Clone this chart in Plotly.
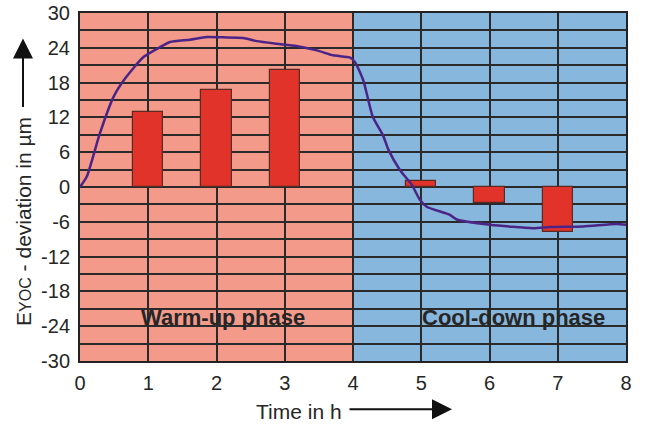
import plotly.graph_objects as go

# Data
bar_hours = [1, 2, 3, 5, 6, 7]
bar_values = [13.0, 16.7, 20.1, 1.0, -2.8, -7.8]

curve_t = [0, 0.1, 0.29, 0.49, 0.66, 0.93, 1.17, 1.32, 1.61, 1.86, 2.1, 2.39, 2.59, 2.88,
           3.17, 3.47, 3.71, 3.96, 4.03, 4.15, 4.29, 4.44, 4.52, 4.69, 4.86, 4.98, 5.08,
           5.42, 5.52, 6.01, 6.64, 6.89, 7.37, 7.86, 8.0]
curve_v = [0, 1.8, 9.2, 15.5, 18.7, 22.4, 24.1, 25.0, 25.4, 25.85, 25.8, 25.7, 25.15, 24.7,
           24.3, 23.55, 22.7, 22.3, 21.5, 18.4, 12.1, 8.9, 6.4, 2.9, 0.4, -2.2, -3.4,
           -4.8, -5.6, -6.5, -7.1, -6.9, -6.8, -6.4, -6.5]

x_ticks = [0, 1, 2, 3, 4, 5, 6, 7, 8]
y_ticks = [-30, -24, -18, -12, -6, 0, 6, 12, 18, 24, 30]
y_tick_labels = ["-30", "-24", "-18", "-12", "-6", "0", "6", "12", "18", "24", "30"]

phase_labels = ["Warm-up phase", "Cool-down phase"]
phase_label_x = [2.1, 6.35]
phase_label_y = -22.5

warm_color = "#F39A8A"
cool_color = "#88B7DD"
grid_color = "#2A2A2A"
text_color = "#262626"
font_family = "Liberation Sans, Arial, sans-serif"

# plot-area geometry (pixels) used for placing the outer axis titles
PL, PR, PT, PB = 80, 626, 12.5, 361.5
PW, PH = PR - PL, PB - PT


def px(xp):
    return (xp - PL) / PW


def py(yp):
    return (PB - yp) / PH


fig = go.Figure()

fig.add_trace(go.Bar(
    x=bar_hours, y=bar_values, width=0.44,
    marker=dict(color="#E2332B", line=dict(color="#5A2A25", width=1.2)),
    hoverinfo="skip", showlegend=False,
))

fig.add_trace(go.Scatter(
    x=curve_t, y=curve_v, mode="lines",
    line=dict(color="#4A2587", width=2.5, shape="spline", smoothing=0.6),
    hoverinfo="skip", showlegend=False,
))

# phase backgrounds
fig.add_shape(type="rect", xref="x", yref="y", x0=0, x1=4, y0=-30, y1=30,
              fillcolor=warm_color, line=dict(width=0), layer="below")
fig.add_shape(type="rect", xref="x", yref="y", x0=4, x1=8, y0=-30, y1=30,
              fillcolor=cool_color, line=dict(width=0), layer="below")

for txt, xx in zip(phase_labels, phase_label_x):
    fig.add_annotation(x=xx, y=phase_label_y, text="<b>%s</b>" % txt, showarrow=False,
                       xanchor="center", yanchor="middle",
                       font=dict(family=font_family, size=22, color=text_color))

# y-axis title with arrow
fig.add_annotation(xref="paper", yref="paper", x=px(24), y=py(222),
                   xanchor="center", yanchor="middle",
                   text='E<span style="font-size:16px">YOC</span> - deviation in µm',
                   textangle=-90, showarrow=False,
                   font=dict(family=font_family, size=21, color=text_color))
fig.add_annotation(xref="paper", yref="paper", x=px(23), y=py(38),
                   ax=0, ay=70, text="", showarrow=True, arrowhead=2,
                   arrowsize=2, arrowwidth=2, arrowcolor="#111111")

# x-axis title with arrow
fig.add_annotation(xref="paper", yref="paper", x=px(299), y=py(412),
                   xanchor="center", yanchor="middle",
                   text="Time in h", showarrow=False,
                   font=dict(family=font_family, size=21, color=text_color))
fig.add_annotation(xref="paper", yref="paper", x=px(452), y=py(410),
                   ax=-104, ay=0, text="", showarrow=True, arrowhead=2,
                   arrowsize=2, arrowwidth=2, arrowcolor="#111111")

fig.update_layout(
    width=650, height=425,
    margin=dict(l=PL, r=650 - PR, t=PT, b=425 - PB),
    paper_bgcolor="white", plot_bgcolor="white",
    font=dict(family=font_family, size=20, color=text_color),
    bargap=0,
)
fig.update_xaxes(range=[0, 8], tickvals=x_ticks, showgrid=True, gridcolor=grid_color,
                 gridwidth=1.5, zeroline=False, showline=True, linecolor="#222222",
                 linewidth=2, mirror=True, ticks="", ticklabelstandoff=3, automargin=False)
fig.update_yaxes(range=[-30, 30], tickvals=y_ticks, ticktext=y_tick_labels, showgrid=False,
                 zeroline=False, showline=True, linecolor="#222222", linewidth=2, mirror=True,
                 ticks="", ticklabelstandoff=4, automargin=False)
# horizontal gridlines every 3 units
fig.update_yaxes(minor=dict(dtick=3, tick0=0, showgrid=True, gridcolor=grid_color, gridwidth=1.5))

fig.write_html("out.html")
